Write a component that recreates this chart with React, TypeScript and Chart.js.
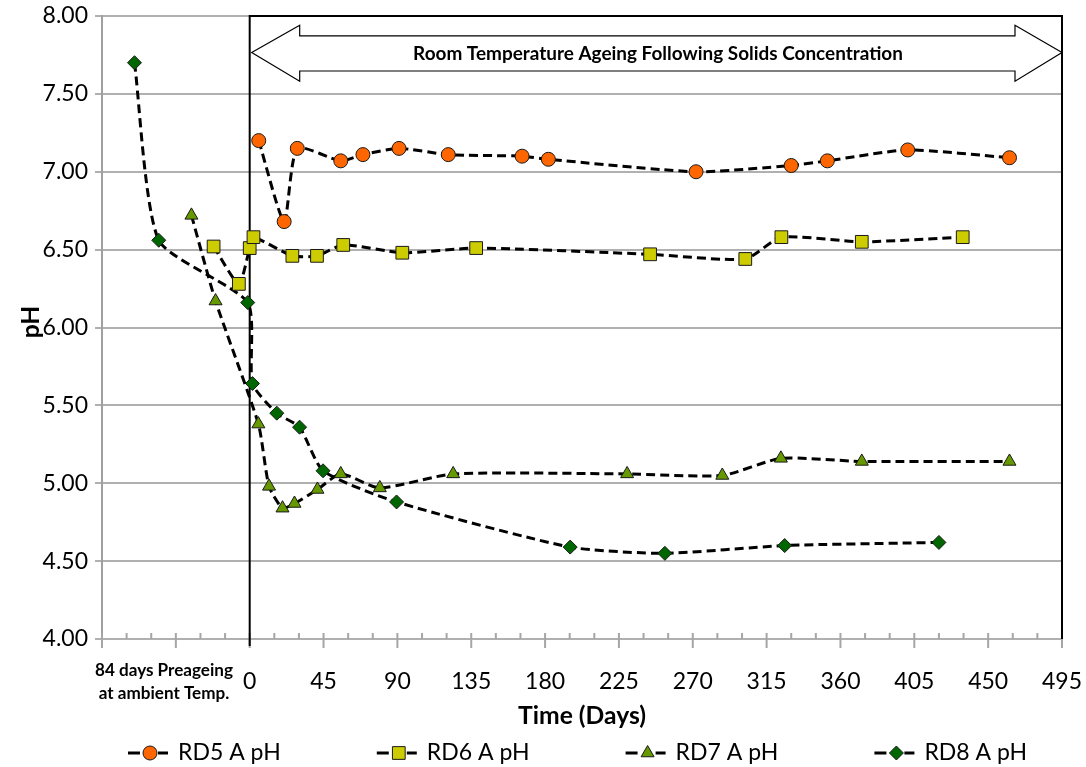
import React, { useEffect, useRef } from 'react';
import { Chart, registerables } from 'chart.js';
import { drawPoint } from 'chart.js/helpers';

Chart.register(...registerables);

// ---- data (days relative to start of room-temperature ageing, pH) ----
const rd5Days = [5.5, 21, 29, 55.5, 69, 91, 121, 166, 182, 272, 330, 352, 401, 463];
const rd5PH = [7.2, 6.68, 7.15, 7.07, 7.11, 7.15, 7.11, 7.1, 7.08, 7.0, 7.04, 7.07, 7.14, 7.09];

const rd6Days = [-22, -6.6, 0, 2.3, 26, 41, 57, 93, 138, 244, 302, 324, 373, 434.5];
const rd6PH = [6.52, 6.28, 6.51, 6.58, 6.46, 6.46, 6.53, 6.48, 6.51, 6.47, 6.44, 6.58, 6.55, 6.58];

const rd7Days = [-35.5, -20.8, 5.3, 11.8, 20, 27.3, 41.3, 55.5, 79.3, 124, 230, 288, 323.7, 373, 463];
const rd7PH = [6.72, 6.17, 5.38, 4.98, 4.84, 4.87, 4.96, 5.06, 4.97, 5.06, 5.06, 5.05, 5.16, 5.14, 5.14];

const rd8Days = [-70.2, -55.4, -1.2, 1.7, 16.5, 30.4, 44.7, 89.5, 195.3, 253, 326, 420];
const rd8PH = [7.7, 6.56, 6.16, 5.64, 5.45, 5.36, 5.08, 4.88, 4.59, 4.55, 4.6, 4.62];

const seriesNames = ['RD5 A pH', 'RD6 A pH', 'RD7 A pH', 'RD8 A pH'];
const xMajorTicks = [-90, -45, 0, 45, 90, 135, 180, 225, 270, 315, 360, 405, 450, 495];
const xMinorStep = 15;
const yTickValues = [4, 4.5, 5, 5.5, 6, 6.5, 7, 7.5, 8];
const preageLabel = ['84 days Preageing', 'at ambient Temp.'];
const arrowLabel = 'Room Temperature Ageing Following Solids Concentration';
const xTitle = 'Time (Days)';
const yTitle = 'pH';

const FONT = 'Lato, "Noto Sans", sans-serif';

const styles = [
  { pointStyle: 'circle', radius: 7, fill: '#FF6600' },
  { pointStyle: 'rect', radius: 9, fill: '#CCCC00' },
  { pointStyle: 'triangle', radius: 7.5, fill: '#669900' },
  { pointStyle: 'rectRot', radius: 7, fill: '#006600' },
];

const zip = (xs: number[], ys: number[]) => xs.map((x, i) => ({ x, y: ys[i] }));

function fitFont(ctx: CanvasRenderingContext2D, text: string, width: number, weight: string) {
  ctx.font = `${weight} 20px ${FONT}`;
  const w = ctx.measureText(text).width;
  return (20 * width) / w;
}

function zeroPadding(s: any) {
  s.paddingLeft = 0;
  s.paddingRight = 0;
  s.paddingTop = 0;
  s.paddingBottom = 0;
}

const decorPlugin = {
  id: 'decor',
  beforeDatasetsDraw(chart: any) {
    const { ctx, chartArea, scales } = chart;
    const xs = scales.x;
    const x0 = xs.getPixelForValue(0);
    const xEnd = xs.getPixelForValue(495);
    ctx.save();
    // x axis tick marks
    ctx.strokeStyle = '#a6a6a6';
    ctx.lineWidth = 2;
    ctx.beginPath();
    for (let v = -90; v <= 495; v += xMinorStep) {
      const px = xs.getPixelForValue(v);
      const major = xMajorTicks.includes(v);
      ctx.moveTo(px, chartArea.bottom - 6);
      ctx.lineTo(px, chartArea.bottom + (major ? 9 : 0));
    }
    ctx.stroke();
    // black box for room temperature period
    ctx.strokeStyle = '#000';
    ctx.lineWidth = 2;
    ctx.beginPath();
    ctx.moveTo(x0, chartArea.bottom + 7);
    ctx.lineTo(x0, chartArea.top);
    ctx.lineTo(xEnd, chartArea.top);
    ctx.lineTo(xEnd, chartArea.bottom);
    ctx.stroke();
    // double arrow
    const ys = scales.y;
    const tipY = ys.getPixelForValue(7.765);
    const headT = ys.getPixelForValue(7.94);
    const headB = ys.getPixelForValue(7.581);
    const shaftT = ys.getPixelForValue(7.872);
    const shaftB = ys.getPixelForValue(7.647);
    const L = x0 + 2;
    const R = xEnd;
    const hl = 48;
    ctx.beginPath();
    ctx.moveTo(L, tipY);
    ctx.lineTo(L + hl, headT);
    ctx.lineTo(L + hl, shaftT);
    ctx.lineTo(R - hl + 1, shaftT);
    ctx.lineTo(R - hl + 1, headT);
    ctx.lineTo(R, tipY);
    ctx.lineTo(R - hl + 1, headB);
    ctx.lineTo(R - hl + 1, shaftB);
    ctx.lineTo(L + hl, shaftB);
    ctx.lineTo(L + hl, headB);
    ctx.closePath();
    ctx.fillStyle = '#fff';
    ctx.fill();
    ctx.lineWidth = 1.2;
    ctx.stroke();
    // arrow label
    const fs = fitFont(ctx, arrowLabel, 490, 'bold');
    ctx.font = `bold ${fs}px ${FONT}`;
    ctx.fillStyle = '#000';
    ctx.textAlign = 'center';
    ctx.textBaseline = 'middle';
    ctx.fillText(arrowLabel, 658, (shaftT + shaftB) / 2);
    ctx.restore();
  },
  afterDraw(chart: any) {
    const { ctx, chartArea } = chart;
    ctx.save();
    ctx.fillStyle = '#000';
    ctx.textAlign = 'center';
    ctx.textBaseline = 'middle';
    // preageing label
    const fs = fitFont(ctx, preageLabel[0], 138, 'bold');
    ctx.font = `bold ${fs}px ${FONT}`;
    ctx.fillText(preageLabel[0], 164, 670);
    ctx.fillText(preageLabel[1], 164, 693);
    // x title
    const ft = fitFont(ctx, xTitle, 128, 'bold');
    ctx.font = `bold ${ft}px ${FONT}`;
    ctx.fillText(xTitle, (chartArea.left + chartArea.right) / 2, 716);
    // y title
    ctx.save();
    ctx.translate(31, 322);
    ctx.rotate(-Math.PI / 2);
    ctx.font = `bold ${ft}px ${FONT}`;
    ctx.fillText(yTitle, 0, 0);
    ctx.restore();
    // legend
    const ly = 753;
    const startX = 150;
    const gap = 248.8;
    styles.forEach((s, i) => {
      const mx = startX + i * gap;
      ctx.strokeStyle = '#000';
      ctx.lineWidth = 3;
      ctx.setLineDash([]);
      ctx.beginPath();
      ctx.moveTo(mx - 22, ly);
      ctx.lineTo(mx - 10, ly);
      ctx.moveTo(mx + 8, ly);
      ctx.lineTo(mx + 18, ly);
      ctx.stroke();
      ctx.fillStyle = s.fill;
      ctx.strokeStyle = '#1a1a1a';
      ctx.lineWidth = 1;
      drawPoint(ctx, { pointStyle: s.pointStyle as any, radius: s.radius, rotation: 0, borderWidth: 1 } as any, mx, ly);
      ctx.fillStyle = '#000';
      ctx.font = `23px ${FONT}`;
      ctx.textAlign = 'left';
      ctx.fillText(seriesNames[i], mx + 28, ly);
    });
    ctx.restore();
  },
};

export default function App() {
  const ref = useRef<HTMLCanvasElement | null>(null);
  useEffect(() => {
    if (!ref.current) return;
    const allDays = [rd5Days, rd6Days, rd7Days, rd8Days];
    const allPH = [rd5PH, rd6PH, rd7PH, rd8PH];
    const chart = new Chart(ref.current, {
      type: 'line',
      data: {
        datasets: allDays.map((d, i) => ({
          label: seriesNames[i],
          data: zip(d, allPH[i]),
          borderColor: '#000',
          borderWidth: 3,
          borderDash: [9, 5],
          tension: 0.2,
          fill: false,
          pointStyle: styles[i].pointStyle as any,
          pointRadius: styles[i].radius,
          pointBackgroundColor: styles[i].fill,
          pointBorderColor: '#1a1a1a',
          pointBorderWidth: 1,
        })),
      },
      options: {
        animation: false,
        responsive: true,
        maintainAspectRatio: false,
        layout: { padding: { left: 0, right: 24, top: 16, bottom: 0 } },
        plugins: { legend: { display: false }, tooltip: { enabled: false } },
        scales: {
          x: {
            type: 'linear',
            min: -90,
            max: 495,
            afterBuildTicks: (scale: any) => {
              scale.ticks = xMajorTicks.map((v) => ({ value: v }));
            },
            ticks: {
              autoSkip: false,
              maxRotation: 0,
              padding: 21,
              color: '#000',
              font: { family: FONT, size: 23 },
              callback: (v: any) => (Number(v) < 0 ? '' : String(v)),
            },
            grid: { display: false },
            border: { display: false },
            afterFit: (s: any) => {
              s.height = 128;
              zeroPadding(s);
            },
          },
          y: {
            type: 'linear',
            min: 4,
            max: 8,
            afterBuildTicks: (scale: any) => {
              scale.ticks = yTickValues.map((v) => ({ value: v }));
            },
            ticks: {
              padding: 7,
              color: '#000',
              font: { family: FONT, size: 23 },
              callback: (v: any) => Number(v).toFixed(2),
            },
            grid: { color: '#b0b0b0', lineWidth: 2, tickLength: 7 },
            border: { color: '#a0a0a0', width: 2 },
            afterFit: (s: any) => {
              s.width = 102;
              zeroPadding(s);
            },
          },
        },
      },
      plugins: [decorPlugin],
    });
    return () => chart.destroy();
  }, []);
  return (
    <div style={{ position: 'absolute', left: 0, top: 0, width: 1086, height: 767, background: '#fff' }}>
      <canvas ref={ref} />
    </div>
  );
}
